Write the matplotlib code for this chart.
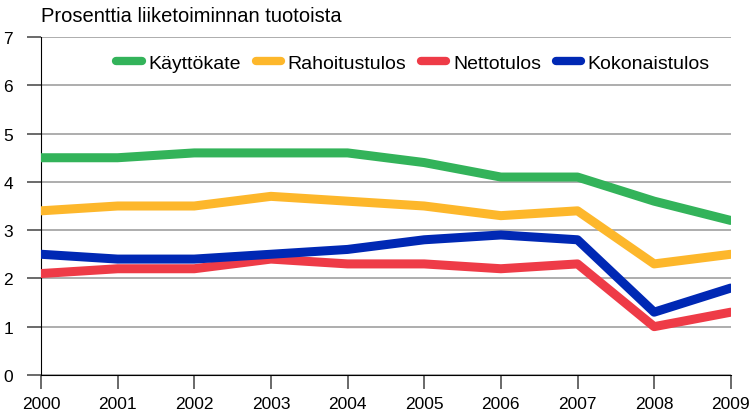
import matplotlib
matplotlib.use("Agg")
import matplotlib.pyplot as plt

years = [2000, 2001, 2002, 2003, 2004, 2005, 2006, 2007, 2008, 2009]
kayttokate = [4.5, 4.5, 4.6, 4.6, 4.6, 4.4, 4.1, 4.1, 3.6, 3.2]
rahoitustulos = [3.4, 3.5, 3.5, 3.7, 3.6, 3.5, 3.3, 3.4, 2.3, 2.5]
nettotulos = [2.1, 2.2, 2.2, 2.4, 2.3, 2.3, 2.2, 2.3, 1.0, 1.3]
kokonaistulos = [2.5, 2.4, 2.4, 2.5, 2.6, 2.8, 2.9, 2.8, 1.3, 1.8]

plt.rcParams["font.family"] = ["Liberation Sans", "DejaVu Sans"]

fig = plt.figure(figsize=(7.49, 4.14), dpi=100)
ax = fig.add_axes([0.0547, 0.092, 0.921, 0.816])

series = [
    ("Käyttökate", kayttokate, "#33b35a"),
    ("Rahoitustulos", rahoitustulos, "#fdb72b"),
    ("Nettotulos", nettotulos, "#ee3b47"),
    ("Kokonaistulos", kokonaistulos, "#0028b4"),
]
for name, vals, col in series:
    ax.plot(years, vals, color=col, lw=6.5, solid_capstyle="round",
            solid_joinstyle="round", label=name, zorder=3)

ax.set_xlim(2000, 2009)
ax.set_ylim(0, 7)
ax.set_xticks(years)
ax.set_yticks(range(0, 8))
ax.grid(axis="y", color="#a0a0a0", lw=1.2)
ax.set_axisbelow(True)
for s in ["top", "right"]:
    ax.spines[s].set_visible(False)
ax.tick_params(axis="both", direction="out", length=10, width=1.2,
               labelsize=12.5, color="#505050")
ax.tick_params(axis="x", pad=5)
ax.tick_params(axis="y", pad=10)

ax.text(0.0, 1.035, "Prosenttia liiketoiminnan tuotoista", transform=ax.transAxes,
        fontsize=14.5, ha="left", va="bottom")

leg = ax.legend(loc="upper right", ncol=4, frameon=False, fontsize=14,
                handlelength=1.3, handletextpad=0.35, columnspacing=0.75,
                bbox_to_anchor=(0.995, 1.0))
for h in leg.get_lines():
    h.set_linewidth(6)

fig.savefig("out.png", dpi=100)
